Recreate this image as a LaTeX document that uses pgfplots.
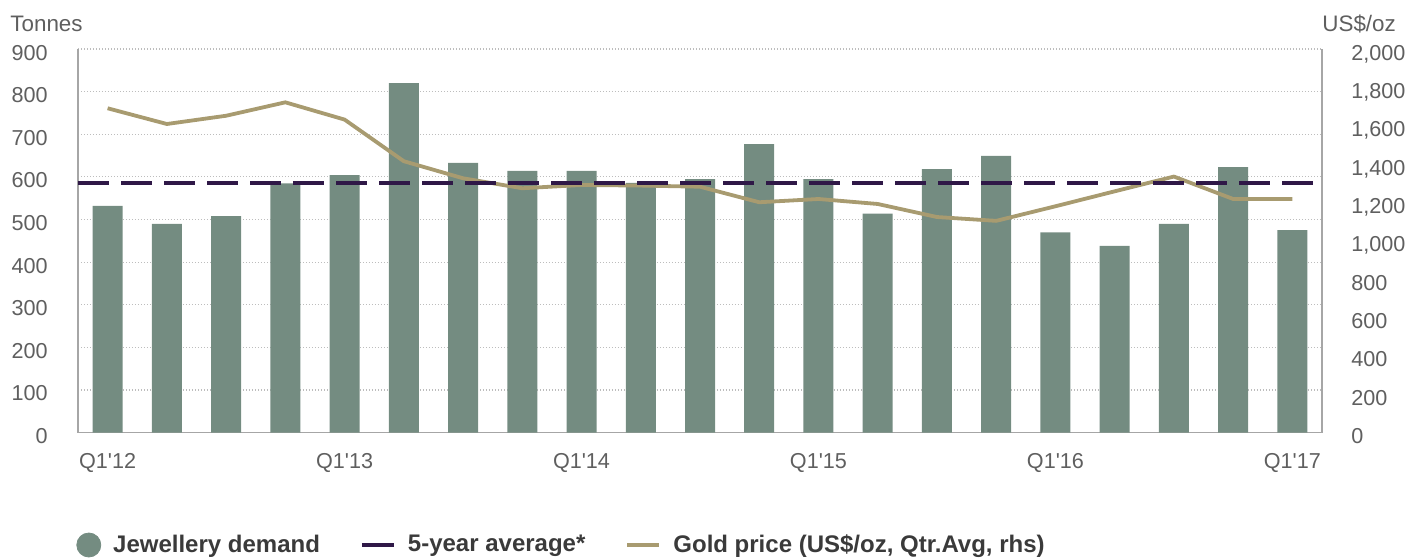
\documentclass[border=0pt]{standalone}
\usepackage{fontspec}
\setmainfont{Liberation Sans}
\usepackage{pgfplots}
\pgfplotsset{compat=1.18}
\definecolor{Jewel}{HTML}{748C81}
\definecolor{GoldLn}{HTML}{A89B70}
\definecolor{AvgLn}{HTML}{2F1847}
\definecolor{TickTxt}{HTML}{5F5F5F}
\definecolor{LegTxt}{HTML}{3A3A3A}
\definecolor{AxGray}{HTML}{A6A6A6}
\definecolor{GridGray}{HTML}{BDBDBD}

\pgfplotsset{
  base/.style={
    at={(0,0)}, anchor=south west,
    scale only axis, width=622pt, height=191.8pt,
    xmin=-0.5, xmax=20.5,
    major tick length=0pt,
    clip=false,
    /pgf/number format/assume math mode=true,
    tick label style={font=\fontsize{10.8}{13}\selectfont, text=TickTxt},
    axis line style={AxGray, line width=0.8pt},
  },
}

\begin{document}
\begin{tikzpicture}
\useasboundingbox (-39pt,-63.2pt) rectangle (671pt,216.3pt);

% left axis: jewellery demand (tonnes)
\begin{axis}[base,
    ymin=0, ymax=900, ytick={0,100,...,900},
    xtick={0,4,8,12,16,20},
    xticklabels={Q1\textquotesingle 12,Q1\textquotesingle 13,Q1\textquotesingle 14,
                 Q1\textquotesingle 15,Q1\textquotesingle 16,Q1\textquotesingle 17},
    axis y line*=left, axis x line*=bottom,
    ymajorgrids=true,
    grid style={GridGray, line width=0.6pt, dash pattern=on 0.6pt off 0.9pt},
    yticklabel style={anchor=base east, inner sep=0pt, xshift=-15pt, yshift=-5.5pt},
    xticklabel style={anchor=base, inner sep=0pt, yshift=-18pt},
]
\addplot[ybar, bar width=15pt, fill=Jewel, draw=none] coordinates {
  (0,532) (1,490) (2,508) (3,585) (4,604) (5,820) (6,633)
  (7,614) (8,614) (9,586) (10,595) (11,677) (12,595) (13,514)
  (14,618) (15,649) (16,470) (17,438) (18,490) (19,623) (20,475)
};
\node[anchor=base west, inner sep=0pt, text=TickTxt, font=\fontsize{11.2}{13}\selectfont]
  at (rel axis cs:0,1) [xshift=-34pt, yshift=9pt] {Tonnes};
\end{axis}

% right axis: gold price (US$/oz)
\begin{axis}[base,
    ymin=0, ymax=2000, ytick={0,200,...,2000},
    /pgf/number format/1000 sep={,},
    axis y line*=right, axis x line=none,
    yticklabel style={anchor=base west, inner sep=0pt, xshift=14.5pt, yshift=-5.5pt},
    legend style={at={(0,0)}, anchor=west, xshift=-1pt, yshift=-56.2pt,
      draw=none, fill=none, inner sep=0pt,
      font=\fontsize{12}{14}\selectfont\bfseries, text=LegTxt,
      nodes={inner sep=0pt},
      /tikz/every odd column/.append style={column sep=6pt},
      /tikz/every even column/.append style={column sep=20pt}},
    legend columns=-1,
]
\addlegendimage{legend image code/.code={\fill[Jewel] (6pt,0pt) circle (6pt);}}
\addlegendentry{Jewellery demand}
\addlegendimage{legend image code/.code={\draw[AvgLn, line width=2pt] (0pt,0pt) -- (16pt,0pt);}}
\addlegendentry{5-year average*}
\addplot[GoldLn, line width=1.9pt, line join=round,
  legend image code/.code={\draw[GoldLn, line width=2pt] (0pt,0pt) -- (16pt,0pt);}]
  coordinates {
  (0,1691) (1,1609) (2,1652) (3,1722) (4,1632) (5,1415) (6,1326)
  (7,1274) (8,1291) (9,1288) (10,1282) (11,1201) (12,1218) (13,1192)
  (14,1124) (15,1104) (16,1180) (17,1258) (18,1335) (19,1218) (20,1218)
};
\addlegendentry{Gold price (US\$/oz, Qtr.Avg, rhs)}
\node[anchor=base west, inner sep=0pt, text=TickTxt, font=\fontsize{11.2}{13}\selectfont]
  at (rel axis cs:1,1) [yshift=9pt] {US\$/oz};
\end{axis}

% 5-year average, drawn on top
\begin{axis}[base, ymin=0, ymax=900, hide axis]
\addplot[AvgLn, line width=2pt, dash pattern=on 15.5pt off 6pt] coordinates {(-0.5,585) (20.5,585)};
\end{axis}
\end{tikzpicture}
\end{document}
